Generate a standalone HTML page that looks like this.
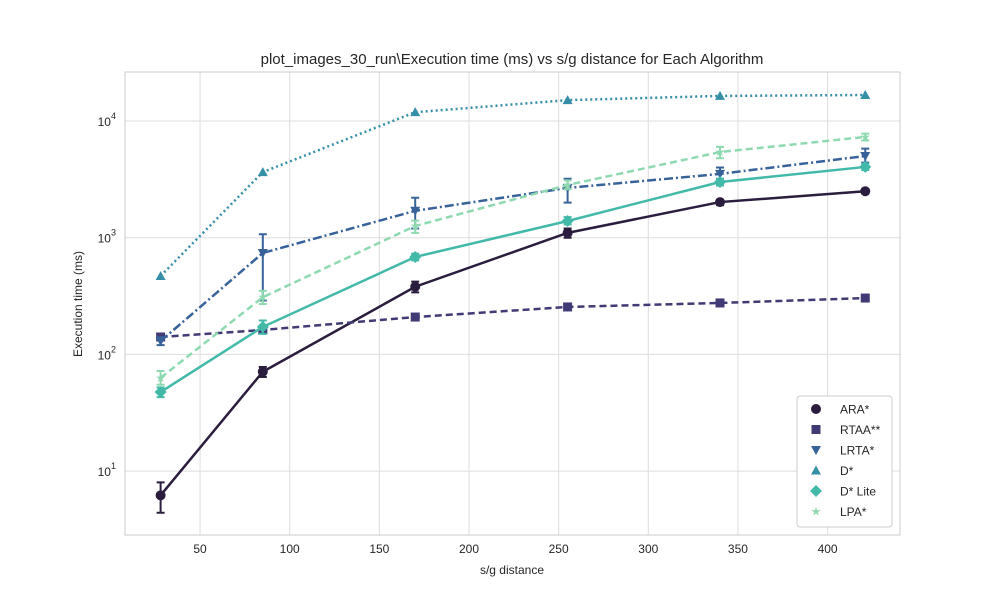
<!DOCTYPE html>
<html><head><meta charset="utf-8"><style>
body{margin:0;background:#fff;font-family:"Liberation Sans",sans-serif}
svg text{font-family:"Liberation Sans","DejaVu Sans",sans-serif;fill:#262626}
</style></head><body>
<svg id="chart" width="1000" height="600">
<rect x="125" y="72" width="775" height="463" fill="#fff"/>
<g id="grid"></g><g id="series"></g><g id="ticks"></g>
<text x="512" y="64" text-anchor="middle" font-size="15">plot_images_30_run\Execution time (ms) vs s/g distance for Each Algorithm</text>
<text x="512" y="574" text-anchor="middle" font-size="12">s/g distance</text>
<text x="82" y="304" text-anchor="middle" font-size="12" transform="rotate(-90 82 304)">Execution time (ms)</text>
<g id="legend"></g>
</svg>
<script>
const xs=[28,85,170,255,340,421];
const names=["ARA*","RTAA**","LRTA*","D*","D* Lite","LPA*"];
const ara=[6.2,71,380,1100,2020,2500];
const rtaa=[141,162,209,255,276,304];
const lrta=[130,740,1700,2670,3520,5010];
const dstar=[470,3650,11900,15100,16400,16700];
const dlite=[47.6,172,684,1390,3000,4040];
const lpa=[63,309,1260,2830,5420,7300];
const araErr=[[4.4,8],[64,78],[340,420],[1000,1200],[1900,2100],[2400,2600]];
const lrtaErr=[[120,140],[290,1070],[1200,2200],[2000,3200],[3000,4000],[4400,5800]];
const lpaErr=[[55,72],[270,350],[1100,1400],[2600,3100],[4800,6000],[6800,7800]];
const dliteErr=[[43,52],[150,195],[640,730],[1300,1500],[2800,3200],[3800,4300]];
const xTicks=[50,100,150,200,250,300,350,400];
const yTicks=[1,2,3,4];
const X=v=>110.4+v*1.793;
const Y=v=>121+(4-Math.log10(v))*116.7;
const NS="http://www.w3.org/2000/svg";
function mk(p,t,a){const e=document.createElementNS(NS,t);for(const k in a)e.setAttribute(k,a[k]);p.appendChild(e);return e;}
const grid=document.getElementById('grid'),ticks=document.getElementById('ticks'),ser=document.getElementById('series'),leg=document.getElementById('legend');
xTicks.forEach(t=>{const l=mk(grid,'line',{x1:X(t),x2:X(t),y1:72,y2:535,stroke:'#ddd'});

const tx=mk(ticks,'text',{x:X(t),y:553,'text-anchor':'middle','font-size':12});tx.textContent=t;
});
yTicks.forEach(t=>{const y=Y(Math.pow(10,t));const l=mk(grid,'line',{x1:125,x2:900,y1:y,y2:y,stroke:'#ddd'});

const tx=mk(ticks,'text',{x:116,y:y+5,'text-anchor':'end','font-size':12});tx.innerHTML='10<tspan dy="-7" font-size="9">'+t+'</tspan>';
});
mk(grid,'rect',{x:125,y:72,width:775,height:463,fill:'none',stroke:'#ccc'});
const defs=[
{d:ara,c:'#2b1d3d',dash:'',m:'circle',e:araErr},
{d:rtaa,c:'#403a75',dash:'7,4',m:'square',e:null},
{d:lrta,c:'#38639a',dash:'9,3,2,3',m:'tridown',e:lrtaErr},
{d:dstar,c:'#348fa7',dash:'2,3',m:'triup',e:null},
{d:dlite,c:'#43b9a9',dash:'',m:'diamond',e:dliteErr},
{d:lpa,c:'#8fd9b1',dash:'7,4',m:'star',e:lpaErr}];
function marker(p,m,x,y,c,s){s=s||1;let e;
if(m=='circle')e=mk(p,'circle',{cx:x,cy:y,r:5*s,fill:c});
else if(m=='square')e=mk(p,'rect',{x:x-4.5*s,y:y-4.5*s,width:9*s,height:9*s,fill:c});
else if(m=='tridown')e=mk(p,'polygon',{points:`${x-5*s},${y-4*s} ${x+5*s},${y-4*s} ${x},${y+5*s}`,fill:c});
else if(m=='triup')e=mk(p,'polygon',{points:`${x-5*s},${y+4*s} ${x+5*s},${y+4*s} ${x},${y-5*s}`,fill:c});
else if(m=='diamond')e=mk(p,'polygon',{points:`${x},${y-6*s} ${x+6*s},${y} ${x},${y+6*s} ${x-6*s},${y}`,fill:c});
else e=mk(p,'text',{x:x,y:y+4*s,'text-anchor':'middle','font-size':12*s,fill:c,style:'fill:'+c});
if(m=='star')e.textContent='★';
return e;}
defs.forEach((s,i)=>{const g=mk(ser,'g',{});
const pl=mk(g,'polyline',{points:s.d.map((v,j)=>X(xs[j])+','+Y(v)).join(' '),fill:'none',stroke:s.c,'stroke-width':2.5,'stroke-dasharray':s.dash});

if(s.e)s.e.forEach((r,j)=>{const x=X(xs[j]);const eb=mk(g,'path',{d:`M${x},${Y(r[0])}V${Y(r[1])}M${x-4},${Y(r[0])}h8M${x-4},${Y(r[1])}h8`,stroke:s.c,'stroke-width':2,fill:'none'});
});
s.d.forEach((v,j)=>{const mm=marker(g,s.m,X(xs[j]),Y(v),s.c);});
});
const lb=mk(leg,'rect',{x:797,y:396,width:95,height:131,rx:3,fill:'#fff',stroke:'#ccc'});

defs.forEach((s,i)=>{const y=409+i*20.5;const m=marker(leg,s.m,816,y,s.c);
const t=mk(leg,'text',{x:840,y:y+4.5,'font-size':12});t.textContent=names[i];});
</script>
</body></html>
